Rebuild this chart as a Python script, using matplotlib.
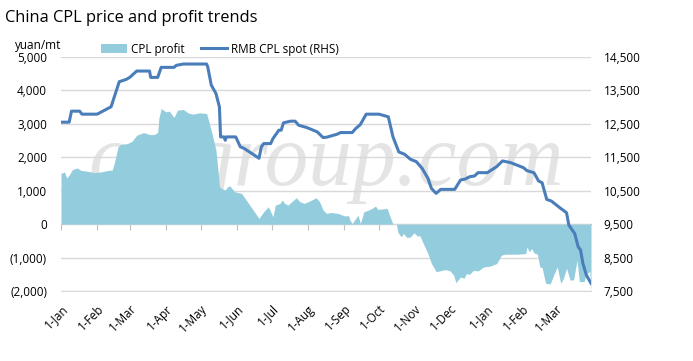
import matplotlib
matplotlib.use("Agg")
import matplotlib.pyplot as plt
import pandas as pd
from matplotlib.patches import Patch
from matplotlib.lines import Line2D

plt.rcParams['font.family'] = ['Open Sans', 'DejaVu Sans']

title = "China CPL price and profit trends"
unit_label = "yuan/mt"
profit_name = "CPL profit"
spot_name = "RMB CPL spot (RHS)"
watermark = "ccfgroup.com"

# CPL profit, yuan/mt (left axis)
profit_dates = [
    "2019-01-01", "2019-01-04", "2019-01-06", "2019-01-08", "2019-01-11", "2019-01-15",
    "2019-01-18", "2019-01-24", "2019-01-30", "2019-02-04", "2019-02-11", "2019-02-14",
    "2019-02-16", "2019-02-19", "2019-02-21", "2019-02-27", "2019-03-03", "2019-03-07",
    "2019-03-13", "2019-03-18", "2019-03-22", "2019-03-25", "2019-03-26", "2019-03-28",
    "2019-03-30", "2019-04-01", "2019-04-04", "2019-04-08", "2019-04-11", "2019-04-16",
    "2019-04-20", "2019-04-24", "2019-04-30", "2019-05-06", "2019-05-07", "2019-05-11",
    "2019-05-14", "2019-05-16", "2019-05-17", "2019-05-19", "2019-05-22", "2019-05-24",
    "2019-05-26", "2019-05-30", "2019-06-05", "2019-06-09", "2019-06-14", "2019-06-20",
    "2019-06-24", "2019-06-28", "2019-07-02", "2019-07-04", "2019-07-08", "2019-07-10",
    "2019-07-12", "2019-07-15", "2019-07-18", "2019-07-22", "2019-07-25", "2019-07-29",
    "2019-08-03", "2019-08-08", "2019-08-11", "2019-08-14", "2019-08-17", "2019-08-21",
    "2019-08-27", "2019-09-01", "2019-09-05", "2019-09-06", "2019-09-08", "2019-09-11",
    "2019-09-13", "2019-09-15", "2019-09-18", "2019-09-22", "2019-09-25", "2019-09-28",
    "2019-09-30", "2019-10-08", "2019-10-10", "2019-10-13", "2019-10-16", "2019-10-17",
    "2019-10-20", "2019-10-22", "2019-10-25", "2019-10-28", "2019-10-31", "2019-11-03",
    "2019-11-05", "2019-11-08", "2019-11-12", "2019-11-15", "2019-11-19", "2019-11-22",
    "2019-11-27", "2019-12-01", "2019-12-04", "2019-12-06", "2019-12-10", "2019-12-13",
    "2019-12-15", "2019-12-18", "2019-12-21", "2019-12-25", "2019-12-30", "2020-01-04",
    "2020-01-10", "2020-01-14", "2020-01-17", "2020-01-28", "2020-02-04", "2020-02-05",
    "2020-02-07", "2020-02-09", "2020-02-11", "2020-02-14", "2020-02-16", "2020-02-18",
    "2020-02-21", "2020-02-25", "2020-02-28", "2020-03-02", "2020-03-05", "2020-03-07",
    "2020-03-10", "2020-03-13", "2020-03-16", "2020-03-19", "2020-03-21", "2020-03-25",
    "2020-03-27", "2020-03-30", "2020-03-31",
]
profit_vals = [
    1520, 1560, 1380, 1470, 1640, 1680,
    1610, 1580, 1540, 1560, 1610, 1620,
    1860, 2310, 2380, 2410, 2480, 2660,
    2740, 2680, 2680, 2740, 3160, 3460,
    3410, 3360, 3380, 3190, 3410, 3430,
    3330, 3290, 3330, 3310, 3190, 2660,
    2210, 1520, 1120, 1070, 1020, 1120,
    1140, 970, 920, 720, 470, 170,
    370, 520, 220, 570, 620, 720,
    620, 570, 670, 790, 670, 620,
    700, 790, 670, 420, 320, 350,
    320, 250, 250, 120, 20, 170,
    270, 20, 370, 420, 470, 540,
    440, 470, 270, 0, 0, -230,
    -380, -280, -400, -380, -260, -360,
    -340, -580, -880, -1180, -1420, -1400,
    -1360, -1400, -1520, -1750, -1580, -1620,
    -1480, -1500, -1380, -1400, -1280, -1260,
    -1180, -930, -900, -900, -880, -680,
    -830, -730, -860, -900, -1280, -1300,
    -1770, -1790, -1520, -1280, -1770, -1650,
    -1320, -1670, -1670, -1080, -1720, -1720,
    -1480, -1420, -2000,
]

# RMB CPL spot price, yuan/mt (right axis)
spot_dates = [
    "2019-01-01", "2019-01-08", "2019-01-10", "2019-01-17", "2019-01-19", "2019-02-01",
    "2019-02-13", "2019-02-20", "2019-02-26", "2019-03-01", "2019-03-07", "2019-03-18",
    "2019-03-19", "2019-03-25", "2019-03-28", "2019-04-08", "2019-04-10", "2019-04-16",
    "2019-05-06", "2019-05-07", "2019-05-10", "2019-05-14", "2019-05-17", "2019-05-18",
    "2019-05-21", "2019-05-22", "2019-05-23", "2019-05-31", "2019-06-04", "2019-06-07",
    "2019-06-14", "2019-06-20", "2019-06-22", "2019-06-24", "2019-06-30", "2019-07-02",
    "2019-07-07", "2019-07-09", "2019-07-11", "2019-07-17", "2019-07-21", "2019-07-24",
    "2019-07-31", "2019-08-09", "2019-08-14", "2019-08-17", "2019-08-26", "2019-08-29",
    "2019-09-08", "2019-09-11", "2019-09-15", "2019-09-20", "2019-10-01", "2019-10-09",
    "2019-10-13", "2019-10-18", "2019-10-23", "2019-10-28", "2019-11-02", "2019-11-07",
    "2019-11-12", "2019-11-15", "2019-11-19", "2019-11-23", "2019-12-05", "2019-12-10",
    "2019-12-14", "2019-12-18", "2019-12-22", "2019-12-25", "2020-01-02", "2020-01-10",
    "2020-01-15", "2020-01-22", "2020-02-02", "2020-02-05", "2020-02-11", "2020-02-15",
    "2020-02-18", "2020-02-22", "2020-02-26", "2020-03-05", "2020-03-07", "2020-03-10",
    "2020-03-12", "2020-03-17", "2020-03-20", "2020-03-22", "2020-03-24", "2020-03-27",
    "2020-03-31",
]
spot_vals = [
    12550, 12550, 12880, 12880, 12790, 12790,
    13010, 13760, 13830, 13890, 14080, 14080,
    13890, 13890, 14190, 14190, 14250, 14290,
    14290, 14200, 13660, 13410, 13010, 12110,
    12110, 12010, 12110, 12110, 11810, 11770,
    11610, 11470, 11810, 11910, 11910, 12060,
    12310, 12310, 12530, 12580, 12580, 12460,
    12390, 12260, 12090, 12100, 12190, 12240,
    12240, 12360, 12480, 12790, 12790, 12710,
    12110, 11660, 11590, 11440, 11370, 11170,
    10870, 10570, 10420, 10540, 10540, 10820,
    10850, 10920, 10940, 11040, 11040, 11220,
    11390, 11340, 11190, 11100, 11040, 10790,
    10740, 10240, 10190, 9970, 9920, 9840,
    9470, 9220, 8820, 8730, 8330, 7980,
    7730,
]

left_ticks = [-2000, -1000, 0, 1000, 2000, 3000, 4000, 5000]
right_ticks = [7500, 8500, 9500, 10500, 11500, 12500, 13500, 14500]
month_ticks = pd.date_range("2019-01-01", "2020-03-01", freq="MS")

profit_x = pd.to_datetime(profit_dates)
spot_x = pd.to_datetime(spot_dates)

fill_color = "#93cddd"
line_color = "#4a7ebb"
grid_color = "#d9d9d9"

fig = plt.figure(figsize=(6.93, 3.61), dpi=100)
ax = fig.add_axes([61 / 693, 1 - 291 / 361, 530 / 693, 234 / 361])
ax2 = ax.twinx()

# watermark behind the area
ax.text(0.50, 0.455, watermark, transform=ax.transAxes, ha="center", va="baseline",
        fontsize=63, style="italic", family="Liberation Serif", color="#e4e4e4", zorder=0)

ax.fill_between(profit_x, profit_vals, 0, color=fill_color, linewidth=0, zorder=2)
ax2.plot(spot_x, spot_vals, color=line_color, linewidth=2.2, zorder=3)

ax.set_xlim(pd.Timestamp("2019-01-01"), pd.Timestamp("2020-03-31"))
ax.set_ylim(-2000, 5000)
ax2.set_ylim(7500, 14500)

ax.set_yticks(left_ticks)
ax.set_yticklabels([f"({abs(v):,})" if v < 0 else f"{v:,}" for v in left_ticks])
for lab, v in zip(ax.get_yticklabels(), left_ticks):
    if v < 0:
        lab.set_color("#ff0000")
ax2.set_yticks(right_ticks)
ax2.set_yticklabels([f"{v:,}" for v in right_ticks])

ax.grid(axis="y", color=grid_color, linewidth=1, zorder=1)
ax.set_axisbelow(True)
ax.tick_params(axis="y", length=0, pad=10, labelsize=8.5, colors="#000000")
ax2.tick_params(axis="y", length=0, pad=9, labelsize=8.5)

ax.set_xticks(month_ticks)
ax.set_xticklabels([f"{d.day}-{d:%b}" for d in month_ticks], rotation=45,
                   ha="right", va="top", rotation_mode="anchor", fontsize=8.5)
ax.tick_params(axis="x", length=0, pad=8)

# category axis crossing at zero, ticks pointing down
zero_axis = ax.secondary_xaxis(2 / 7)
zero_axis.set_xticks(month_ticks)
zero_axis.set_xticklabels([])
zero_axis.tick_params(axis="x", direction="out", length=4, color="#bfbfbf")
zero_axis.spines["bottom"].set_color("#bfbfbf")

for a in (ax, ax2):
    for side in ("top", "left", "right"):
        a.spines[side].set_visible(False)
    a.spines["bottom"].set_color(grid_color)
ax2.spines["bottom"].set_visible(False)
ax2.patch.set_visible(False)

fig.text(5 / 693, 1 - 18 / 361, title, fontsize=11.8, va="center", ha="left")
fig.text(15 / 693, 1 - 46 / 361, unit_label, fontsize=8.5, va="center", ha="left")

handles = [Patch(facecolor=fill_color, edgecolor="none"),
           Line2D([0], [0], color=line_color, linewidth=2.2)]
fig.legend(handles, [profit_name, spot_name], loc="center", ncol=2, frameon=False,
           bbox_to_anchor=(220 / 693, 1 - 49 / 361), fontsize=8.5,
           handlelength=2.2, handletextpad=0.3, columnspacing=1.4, borderpad=0)

fig.savefig("out.png", dpi=100)
